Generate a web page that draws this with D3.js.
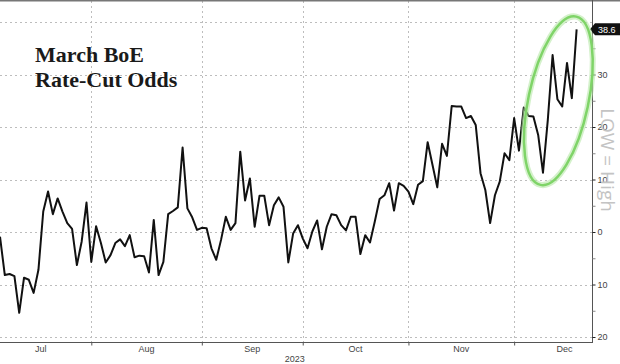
<!DOCTYPE html>
<html>
<head>
<meta charset="utf-8">
<script src="https://cdn.jsdelivr.net/npm/d3@7"></script>
<style>
  body { margin: 0; background: #fff; }
  svg { display: block; }
</style>
</head>
<body>
<div id="chart"></div>
<script>
// March BoE rate-cut odds, one value per business day from 5 Jul 2023
const startDate = new Date(2023, 6, 5);
const odds = [
  -0.9, -8.2, -8, -8.4, -15.4, -8.7, -9.1, -11.6, -7.2, 3.9,
  7.7, 3.4, 6.4, 3.9, 1.7, 0.6, -6.3, -1.8, 5.6, -5.7,
  1.1, -2.1, -5.8, -4.4, -2.1, -1.4, -2.7, -0.6, -4.8, -4.5,
  -4.6, -7.7, 2.3, -8.2, -5.7, 3.4, 4, 4.7, 16.1, 4.5,
  2.8, 0.4, 0.8, 0.7, -3.1, -5.3, -1.5, 2.9, 0.4, 1.7,
  15.3, 6, 10.2, 1, 6.9, 6.9, 1.3, 5.1, 6.6, 4.8,
  -5.8, -0.3, 1.3, -1.2, -3.1, 0.1, 2.2, -3.3, 1, 3.4,
  3.2, 1.3, 0.3, 2.9, 2.9, -4.2, -0.6, -2, 2, 6.3,
  7, 9.3, 4.1, 9.3, 8.8, 7.7, 5.3, 9, 9.7, 17.1,
  12.8, 8.5, 16.8, 14.5, 24, 23.9, 23.9, 21.7, 22.1, 20.4,
  11.2, 8, 1.7, 7, 9.6, 15, 13.7, 21.7, 15.5, 23.7,
  22.1, 22, 18.5, 11.3, 21.3, 33.7, 25.3, 23.9, 32.2, 25.5,
  38.6
];
const monthLabels = ["Jul", "Aug", "Sep", "Oct", "Nov", "Dec"];
const yTicks = [30, 20, 10, 0, -10, -20];
const yGrid = [40, 30, 20, 10, 0, -10, -20];
const yearLabel = "2023";
const titleLines = ["March BoE", "Rate-Cut Odds"];
const sideNote = "LOW = High";

const width = 620, height = 364;
const plot = { left: 0, right: 592, top: 1, bottom: 342 };

const svg = d3.select("#chart").append("svg")
  .attr("width", width)
  .attr("height", height);

const isWeekday = d => d.getDay() !== 0 && d.getDay() !== 6;
// business-day index of a date relative to startDate
function bizIndex(d) {
  if (d >= startDate) return d3.timeDay.range(startDate, d).filter(isWeekday).length;
  return -d3.timeDay.range(d, startDate).filter(isWeekday).length;
}

const x = d3.scaleLinear().domain([0, 123.2]).range([plot.left, plot.right]);
const y = d3.scaleLinear().domain([-20.95, 44]).range([plot.bottom, plot.top]);

const monthStarts = d3.timeMonth.range(new Date(2023, 6, 1), new Date(2024, 0, 2));
const monthIdx = monthStarts.map(bizIndex);

// grid
const grid = svg.append("g").attr("stroke", "#bdbdbd").attr("stroke-width", 1)
  .attr("stroke-dasharray", "2,3");
grid.selectAll(".hg").data(yGrid).enter().append("line")
  .attr("x1", plot.left).attr("x2", plot.right)
  .attr("y1", d => Math.round(y(d)) + 0.5).attr("y2", d => Math.round(y(d)) + 0.5);
grid.selectAll(".vg").data(monthIdx.slice(1, 6)).enter().append("line")
  .attr("x1", d => Math.round(x(d)) + 0.5).attr("x2", d => Math.round(x(d)) + 0.5)
  .attr("y1", plot.top).attr("y2", plot.bottom);

// frame: top line, right axis, bottom axis
svg.append("line").attr("x1", 0).attr("x2", width).attr("y1", 0.5).attr("y2", 0.5)
  .attr("stroke", "#777").attr("stroke-width", 2);
svg.append("line").attr("x1", plot.right + 0.5).attr("x2", plot.right + 0.5)
  .attr("y1", 0).attr("y2", plot.bottom)
  .attr("stroke", "#555");
svg.append("line").attr("x1", 0).attr("x2", plot.right + 1)
  .attr("y1", plot.bottom + 0.5).attr("y2", plot.bottom + 0.5)
  .attr("stroke", "#555");

// right axis
const yAxis = d3.axisRight(y).tickValues(yTicks).tickSize(3).tickPadding(2)
  .tickFormat(d => Math.abs(d));
const yg = svg.append("g").attr("transform", `translate(${plot.right + 0.5},0)`).call(yAxis);
yg.select(".domain").remove();
yg.selectAll("line").attr("stroke", "#222");
yg.selectAll("text").attr("font-family", "Liberation Sans, Arial, sans-serif")
  .attr("font-size", 9).attr("fill", "#444");
const minor = d3.axisRight(y).tickValues([35, 25, 15, 5, -5, -15]).tickSize(3).tickFormat("");
const mg = svg.append("g").attr("transform", `translate(${plot.right + 0.5},0)`).call(minor);
mg.select(".domain").remove();
mg.selectAll("line").attr("stroke", "#888");

// bottom axis
const xAxis = d3.axisBottom(x).tickValues(monthIdx.slice(1, 6)).tickSize(3).tickFormat("");
const xg = svg.append("g").attr("transform", `translate(0,${plot.bottom + 0.5})`).call(xAxis);
xg.select(".domain").remove();
xg.selectAll("line").attr("stroke", "#555");

svg.append("g").selectAll("text").data(monthLabels).enter().append("text")
  .attr("x", (d, i) => x((monthIdx[i] + monthIdx[i + 1]) / 2))
  .attr("y", 352)
  .attr("text-anchor", "middle")
  .attr("font-family", "Liberation Sans, Arial, sans-serif")
  .attr("font-size", 9).attr("fill", "#444")
  .text(d => d);
svg.append("text")
  .attr("x", x(monthIdx[3]) - 8).attr("y", 362)
  .attr("text-anchor", "middle")
  .attr("font-family", "Liberation Sans, Arial, sans-serif")
  .attr("font-size", 9).attr("fill", "#444")
  .text(yearLabel);

// series line
const line = d3.line().x((d, i) => x(i)).y(d => y(d));
svg.append("path").datum(odds)
  .attr("d", line)
  .attr("fill", "none")
  .attr("stroke", "#111")
  .attr("stroke-width", 2)
  .attr("stroke-linejoin", "round");

// last value tag
const last = odds[odds.length - 1];
const ty = y(last);
svg.append("path")
  .attr("d", `M${plot.right - 2},${ty} L${plot.right + 3},${ty - 6} L${width},${ty - 6} L${width},${ty + 6} L${plot.right + 3},${ty + 6} Z`)
  .attr("fill", "#111");
svg.append("text")
  .attr("x", plot.right + 6).attr("y", ty + 3.5)
  .attr("font-family", "Liberation Sans, Arial, sans-serif")
  .attr("font-size", 9).attr("fill", "#fff")
  .text(last);

// green highlight ellipse
const cx = x(116.2), cy = y(25);
svg.append("ellipse")
  .attr("cx", cx).attr("cy", cy).attr("rx", 30).attr("ry", 86)
  .attr("transform", `rotate(12,${cx},${cy})`)
  .attr("fill", "none").attr("stroke", "#b8e8a8").attr("stroke-width", 6).attr("opacity", 0.6);
svg.append("ellipse")
  .attr("cx", cx).attr("cy", cy).attr("rx", 30).attr("ry", 86)
  .attr("transform", `rotate(12,${cx},${cy})`)
  .attr("fill", "none").attr("stroke", "#7fd468").attr("stroke-width", 2.5);

// side note
svg.append("text")
  .attr("transform", `translate(601,160) rotate(90)`)
  .attr("text-anchor", "middle")
  .attr("font-family", "Open Sans, Liberation Sans, sans-serif")
  .attr("font-size", 19).attr("fill", "#c4c4c4")
  .text(sideNote);

// title
svg.append("g").selectAll("text").data(titleLines).enter().append("text")
  .attr("x", 35).attr("y", (d, i) => 62 + i * 25)
  .attr("font-family", "Liberation Serif, Times New Roman, serif")
  .attr("font-weight", "bold").attr("font-size", 22).attr("fill", "#1a1a1a")
  .text(d => d);
</script>
</body>
</html>
